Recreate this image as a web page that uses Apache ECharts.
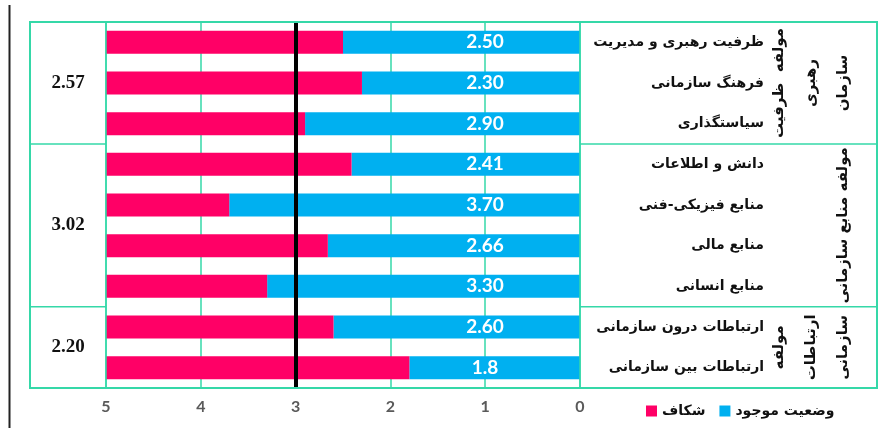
<!DOCTYPE html>
<html>
<head>
<meta charset="utf-8">
<script src="https://cdn.jsdelivr.net/npm/echarts@6/dist/echarts.min.js"></script>
<style>
html,body{margin:0;padding:0;background:#fff;}
#c{width:885px;height:428px;}
</style>
</head>
<body>
<div id="c"></div>
<script>
// ---- data ----
var categories = ['ظرفیت رهبری و مدیریت','فرهنگ سازمانی','سیاستگذاری','دانش و اطلاعات','منابع فیزیکی-فنی','منابع مالی','منابع انسانی','ارتباطات درون سازمانی','ارتباطات بین سازمانی'];
var currentStatus = [2.50, 2.30, 2.90, 2.41, 3.70, 2.66, 3.30, 2.60, 1.8];
var currentLabels = ['2.50','2.30','2.90','2.41','3.70','2.66','3.30','2.60','1.8'];
var gapValues = [2.50, 2.70, 2.10, 2.59, 1.30, 2.34, 1.70, 2.40, 3.20];
var groupSizes = [3, 4, 2];
var groupAverages = ['2.57','3.02','2.20'];
var groupLabelLines = [['مولفه  ظرفیت','رهبری','سازمان'], ['مولفه منابع سازمانی'], ['مولفه','ارتباطات','سازمانی']];
var seriesNames = ['وضعیت موجود','شکاف'];
var threshold = 3;
var xTicks = [0, 1, 2, 3, 4, 5];

// ---- style ----
var TEAL = '#35d8a8';
var BLUE = '#00b0f0';
var PINK = '#ff0066';
var PERSIAN = '"DejaVu Sans", sans-serif';

var chart = echarts.init(document.getElementById('c'), null, {renderer: 'canvas'});

var option = {
  backgroundColor: '#fff',
  animation: false,
  grid: {left: 106, right: 305, top: 22, bottom: 40, containLabel: false},
  legend: {
    data: [seriesNames[1], seriesNames[0]],
    left: 641, top: 399,
    itemWidth: 11, itemHeight: 11, itemGap: 14,
    icon: 'rect',
    textStyle: {fontFamily: PERSIAN, fontWeight: 'bold', fontSize: 14, color: '#111'}
  },
  xAxis: {
    type: 'value', min: xTicks[0], max: xTicks[xTicks.length - 1], interval: 1, inverse: true,
    axisLine: {show: false}, axisTick: {show: false},
    splitLine: {show: true, lineStyle: {color: TEAL, width: 1.5}},
    axisLabel: {color: '#5a5a5a', fontWeight: 'bold', fontSize: 16, fontFamily: 'Lato, "Open Sans", sans-serif', margin: 11}
  },
  yAxis: {
    type: 'category', data: categories, inverse: true, position: 'right',
    axisLine: {show: false}, axisTick: {show: false},
    axisLabel: {align: 'right', margin: 184, color: '#111', fontWeight: 'bold', fontSize: 14, fontFamily: PERSIAN}
  },
  series: [
    {
      name: seriesNames[0], type: 'bar', stack: 's', data: currentStatus, barWidth: 23,
      itemStyle: {color: BLUE},
      label: {
        show: true, position: 'insideRight', distance: 95, align: 'center',
        color: '#fff', fontWeight: 'bold', fontSize: 19, fontFamily: 'Lato, "Open Sans", sans-serif',
        formatter: function (p) { return currentLabels[p.dataIndex]; }
      },
      markLine: {
        silent: true, symbol: 'none', label: {show: false},
        lineStyle: {color: '#000', width: 4, type: 'solid'},
        data: [{xAxis: threshold}]
      }
    },
    {
      name: seriesNames[1], type: 'bar', stack: 's', data: gapValues, barWidth: 23,
      itemStyle: {color: PINK}
    }
  ]
};
chart.setOption(option);

function buildGraphics() {
  var g = [];
  var xLeftCol = 30, xPlotL = chart.convertToPixel({xAxisIndex: 0}, 5), xPlotR = chart.convertToPixel({xAxisIndex: 0}, 0), xRight = 877;
  var c0 = chart.convertToPixel({yAxisIndex: 0}, 0), c1 = chart.convertToPixel({yAxisIndex: 0}, 1);
  var band = c1 - c0;
  var top = c0 - band / 2;
  var bottom = top + band * categories.length;
  var line = function (x1, y1, x2, y2, color, w) {
    g.push({type: 'line', shape: {x1: x1, y1: y1, x2: x2, y2: y2}, style: {stroke: color, lineWidth: w}, silent: true, z: 10});
  };
  // outer box
  g.push({type: 'rect', shape: {x: xLeftCol, y: top, width: xRight - xLeftCol, height: bottom - top}, style: {fill: null, stroke: TEAL, lineWidth: 2}, silent: true, z: 10});
  line(xPlotL, top, xPlotL, bottom, TEAL, 1.5);
  line(xPlotR, top, xPlotR, bottom, TEAL, 1.5);
  // left black line
  line(9.5, 5, 9.5, 428, '#222', 2);
  // groups
  var start = 0;
  for (var i = 0; i < groupSizes.length; i++) {
    var gTop = top + start * band;
    var gBot = top + (start + groupSizes[i]) * band;
    if (i > 0) {
      line(xLeftCol, gTop, xPlotL, gTop, TEAL, 1.5);
      line(xPlotR, gTop, xRight, gTop, TEAL, 1.5);
    }
    var cy = (gTop + gBot) / 2;
    g.push({type: 'text', x: (xLeftCol + xPlotL) / 2, y: cy, silent: true, z: 11,
      style: {text: groupAverages[i], font: 'bold 19px "Liberation Serif", serif', fill: '#111', align: 'center', verticalAlign: 'middle'}});
    var lines = groupLabelLines[i];
    for (var j = 0; j < lines.length; j++) {
      g.push({type: 'text', x: 843 - (lines.length - 1 - j) * 32, y: cy, rotation: Math.PI / 2, silent: true, z: 11,
        style: {text: lines[j], font: 'bold 15px ' + PERSIAN, fill: '#111', align: 'center', verticalAlign: 'middle'}});
    }
    start += groupSizes[i];
  }
  chart.setOption({graphic: g});
}
buildGraphics();
</script>
</body>
</html>
